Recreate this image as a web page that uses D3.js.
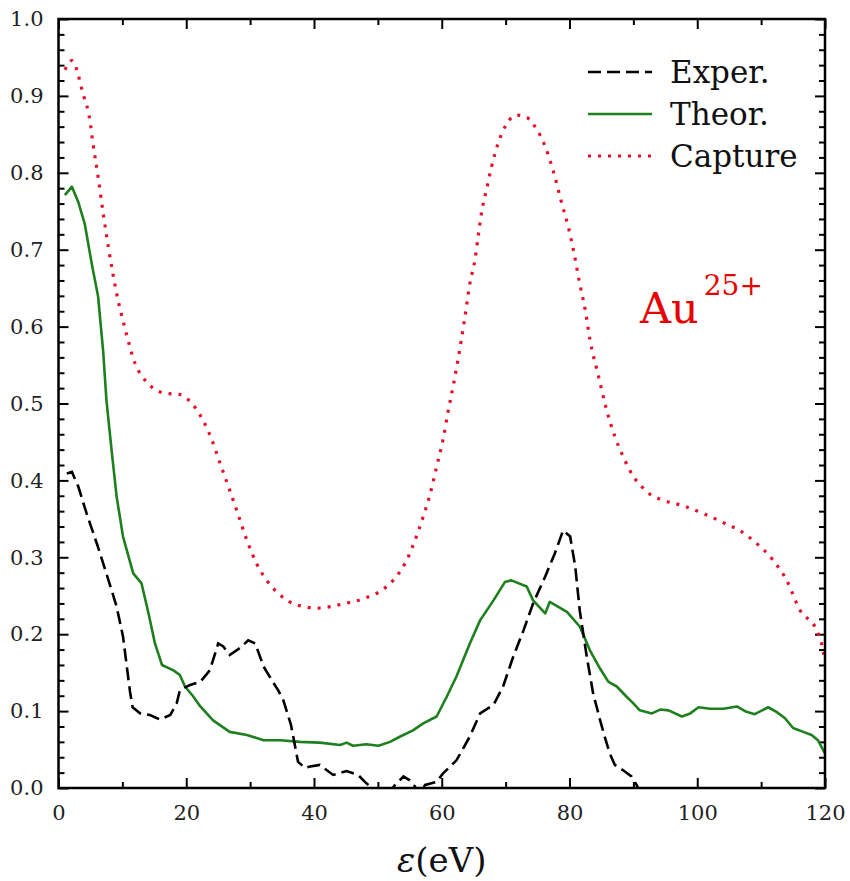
<!DOCTYPE html>
<html lang="en">
<head>
<meta charset="UTF-8">
<title>Au25+ spectrum</title>
<script src="https://cdn.jsdelivr.net/npm/d3@7"></script>
<style>
    body { margin: 0; background: #fff; }
</style>
</head>
<body>
<div id="chart"></div>
<script>
// data
var expX = [1.3,2.1,3.1,4.4,6.0,7.5,9.1,10.1,11.2,11.6,12.8,14.3,15.9,17.5,18.5,19.0,20.6,22.2,23.7,25.0,25.8,26.8,28.4,29.7,30.8,32.1,33.4,34.4,35.2,36.4,37.5,38.6,39.4,40.9,43.0,45.1,46.9,48.2,48.8,50.0,51.5,52.7,54.0,55.0,55.8,56.5,57.4,59.2,60.2,62.3,64.4,66.0,68.1,69.6,71.2,72.8,74.3,76.2,77.7,79.0,80.1,80.9,81.6,82.7,83.7,84.8,85.5,86.3,87.1,88.4,89.7,90.5,91.0];
var expY = [0.409,0.411,0.392,0.357,0.318,0.279,0.236,0.197,0.125,0.105,0.097,0.095,0.089,0.095,0.110,0.127,0.134,0.138,0.153,0.188,0.184,0.173,0.182,0.192,0.188,0.158,0.140,0.127,0.114,0.082,0.034,0.026,0.028,0.030,0.017,0.022,0.017,0.006,0.002,-0.012,-0.008,0.004,0.015,0.010,0.002,-0.008,0.004,0.008,0.019,0.036,0.067,0.097,0.108,0.132,0.171,0.205,0.240,0.275,0.305,0.335,0.327,0.288,0.231,0.171,0.123,0.088,0.067,0.045,0.030,0.023,0.015,0.004,-0.005];

var theoX = [1.0,2.1,3.1,4.1,5.2,6.2,7.0,7.5,8.3,9.1,10.1,11.7,13.0,14.1,15.1,16.2,18.0,19.0,19.8,21.1,22.2,24.2,26.8,29.5,32.1,34.7,37.8,40.9,44.1,45.1,46.1,48.2,50.1,51.9,53.5,55.5,57.1,59.2,60.8,62.3,64.4,66.0,68.1,69.9,70.9,73.3,74.3,76.2,76.9,79.6,81.6,83.2,84.8,86.1,87.4,88.9,90.0,91.0,92.9,94.2,95.5,97.6,98.9,100.2,102.0,104.1,106.2,107.7,109.0,111.1,112.4,113.7,115.0,116.6,117.9,118.9,120];
var theoY = [0.771,0.782,0.762,0.734,0.682,0.639,0.567,0.505,0.440,0.379,0.327,0.279,0.266,0.227,0.188,0.160,0.153,0.147,0.132,0.119,0.106,0.088,0.073,0.069,0.062,0.062,0.060,0.059,0.056,0.059,0.055,0.057,0.055,0.060,0.067,0.075,0.084,0.093,0.119,0.145,0.188,0.218,0.244,0.268,0.270,0.262,0.244,0.227,0.242,0.229,0.210,0.179,0.155,0.138,0.132,0.119,0.110,0.101,0.097,0.102,0.101,0.093,0.097,0.105,0.103,0.103,0.106,0.099,0.096,0.105,0.099,0.091,0.078,0.073,0.069,0.062,0.045];

var capX = [1.0,2.1,3.9,4.9,5.4,6.2,7.0,7.8,9.1,10.4,12.0,13.8,16.9,18.8,20.3,22.5,24.0,25.3,26.6,27.9,29.5,31.0,32.6,34.7,37.3,40.7,44.3,48.0,51.1,52.9,54.5,55.8,57.1,58.2,59.2,60.2,61.0,61.8,62.5,63.6,64.4,65.2,65.7,66.2,67.0,67.8,68.8,70.2,71.7,73.3,74.6,76.2,77.5,78.8,79.8,80.6,81.6,82.5,83.2,84.5,85.8,87.1,88.4,90.0,91.3,92.6,94.4,97.8,101.2,104.6,106.4,109.3,111.9,114.0,116.1,118.7,119.7,120];
var capY = [0.934,0.946,0.901,0.869,0.838,0.795,0.747,0.704,0.643,0.598,0.552,0.528,0.513,0.512,0.505,0.480,0.453,0.422,0.392,0.361,0.322,0.292,0.270,0.251,0.238,0.234,0.239,0.247,0.260,0.275,0.296,0.322,0.353,0.383,0.418,0.453,0.490,0.523,0.555,0.611,0.656,0.687,0.717,0.747,0.778,0.808,0.838,0.864,0.875,0.872,0.860,0.834,0.801,0.760,0.730,0.700,0.656,0.620,0.583,0.537,0.492,0.457,0.431,0.405,0.392,0.382,0.375,0.367,0.356,0.343,0.336,0.318,0.296,0.270,0.231,0.205,0.179,0.164];

var xMajor = [0, 20, 40, 60, 80, 100, 120];
var xMinor = [10, 30, 50, 70, 90, 110];
var yMajor = [0, 0.1, 0.2, 0.3, 0.4, 0.5, 0.6, 0.7, 0.8, 0.9, 1.0];
var yMinor = d3.range(0, 50).filter(function(i){ return i % 5 != 0; }).map(function(i){ return i * 0.02; });

var legendNames = ['Exper.', 'Theor.', 'Capture'];

var W = 850, H = 881;
var margin = {left: 58.5, top: 19, right: 25, bottom: 93};
var w = W - margin.left - margin.right;
var h = H - margin.top - margin.bottom;

var SERIF = 'DejaVu Serif';
var green = '#1d7f1d', red = '#e4102c';

var svg = d3.select('#chart').append('svg').attr('width', W).attr('height', H);
var g = svg.append('g').attr('transform', 'translate(' + margin.left + ',' + margin.top + ')');

var x = d3.scaleLinear().domain([0, 120]).range([0, w]);
var y = d3.scaleLinear().domain([0, 1]).range([h, 0]);

g.append('clipPath').attr('id', 'clip').append('rect').attr('width', w).attr('height', h);

// axes: ticks inward on all four sides
function styleAxis(sel){
    sel.attr('font-family', SERIF).attr('font-size', 21);
    sel.select('.domain').remove();
    sel.selectAll('line').attr('stroke', '#000').attr('stroke-width', 2);
    sel.selectAll('text').attr('fill', '#222');
}
var fmt = d3.format('.1f');

g.append('g').attr('transform', 'translate(0,' + h + ')')
    .call(d3.axisBottom(x).tickValues(xMajor).tickSizeInner(-10).tickSizeOuter(0).tickPadding(17))
    .call(styleAxis);
g.append('g').attr('transform', 'translate(0,' + h + ')')
    .call(d3.axisBottom(x).tickValues(xMinor).tickSizeInner(-6).tickSizeOuter(0).tickFormat(''))
    .call(styleAxis);
g.append('g')
    .call(d3.axisTop(x).tickValues(xMajor).tickSizeInner(-10).tickSizeOuter(0).tickFormat(''))
    .call(styleAxis);
g.append('g')
    .call(d3.axisTop(x).tickValues(xMinor).tickSizeInner(-6).tickSizeOuter(0).tickFormat(''))
    .call(styleAxis);

g.append('g')
    .call(d3.axisLeft(y).tickValues(yMajor).tickSizeInner(-10).tickSizeOuter(0).tickPadding(15).tickFormat(fmt))
    .call(styleAxis);
g.append('g')
    .call(d3.axisLeft(y).tickValues(yMinor).tickSizeInner(-6).tickSizeOuter(0).tickFormat(''))
    .call(styleAxis);
g.append('g').attr('transform', 'translate(' + w + ',0)')
    .call(d3.axisRight(y).tickValues(yMajor).tickSizeInner(-10).tickSizeOuter(0).tickFormat(''))
    .call(styleAxis);
g.append('g').attr('transform', 'translate(' + w + ',0)')
    .call(d3.axisRight(y).tickValues(yMinor).tickSizeInner(-6).tickSizeOuter(0).tickFormat(''))
    .call(styleAxis);

// curves
function pts(xs, ys){ return xs.map(function(v, i){ return [v, ys[i]]; }); }
var lineStraight = d3.line().x(function(d){ return x(d[0]); }).y(function(d){ return y(d[1]); });
var lineSmooth = d3.line().curve(d3.curveMonotoneX).x(function(d){ return x(d[0]); }).y(function(d){ return y(d[1]); });

var plot = g.append('g').attr('clip-path', 'url(#clip)');

plot.append('path').datum(pts(capX, capY)).attr('d', lineSmooth)
    .attr('fill', 'none').attr('stroke', red).attr('stroke-width', 3.2)
    .attr('stroke-dasharray', '3,7');
plot.append('path').datum(pts(theoX, theoY)).attr('d', lineStraight)
    .attr('fill', 'none').attr('stroke', green).attr('stroke-width', 2.6)
    .attr('stroke-linejoin', 'round');
plot.append('path').datum(pts(expX, expY)).attr('d', lineStraight)
    .attr('fill', 'none').attr('stroke', '#000').attr('stroke-width', 2.6)
    .attr('stroke-dasharray', '13,6');

// frame
g.append('rect').attr('width', w).attr('height', h)
    .attr('fill', 'none').attr('stroke', '#000').attr('stroke-width', 2.5);

// legend
var legStyles = [
    {stroke: '#000', dash: '13,6'},
    {stroke: green, dash: null},
    {stroke: red, dash: '3,7'}
];
var leg = svg.append('g').attr('transform', 'translate(588,72)');
legendNames.forEach(function(name, i){
    var row = leg.append('g').attr('transform', 'translate(0,' + (i * 42) + ')');
    row.append('line').attr('x1', 0).attr('x2', 64).attr('y1', 0).attr('y2', 0)
        .attr('stroke', legStyles[i].stroke)
        .attr('stroke-width', i == 2 ? 3.2 : 2.6)
        .attr('stroke-dasharray', legStyles[i].dash);
    row.append('text').attr('x', 82).attr('y', 11).attr('font-family', SERIF)
        .attr('font-size', 31).attr('fill', '#111').text(name);
});

// ion label
var au = svg.append('text').attr('x', 640).attr('y', 323).attr('fill', '#e60000')
    .attr('font-family', SERIF).attr('font-size', 43);
au.append('tspan').text('Au');
au.append('tspan').attr('font-size', 28).attr('dx', 5).attr('dy', -28).text('25+');

// x axis title
var xt = svg.append('text').attr('x', margin.left + w / 2).attr('y', 872)
    .attr('text-anchor', 'middle').attr('font-family', SERIF).attr('font-size', 34).attr('fill', '#111');
xt.append('tspan').attr('font-style', 'italic').text('ε');
xt.append('tspan').text('(eV)');
</script>
</body>
</html>
